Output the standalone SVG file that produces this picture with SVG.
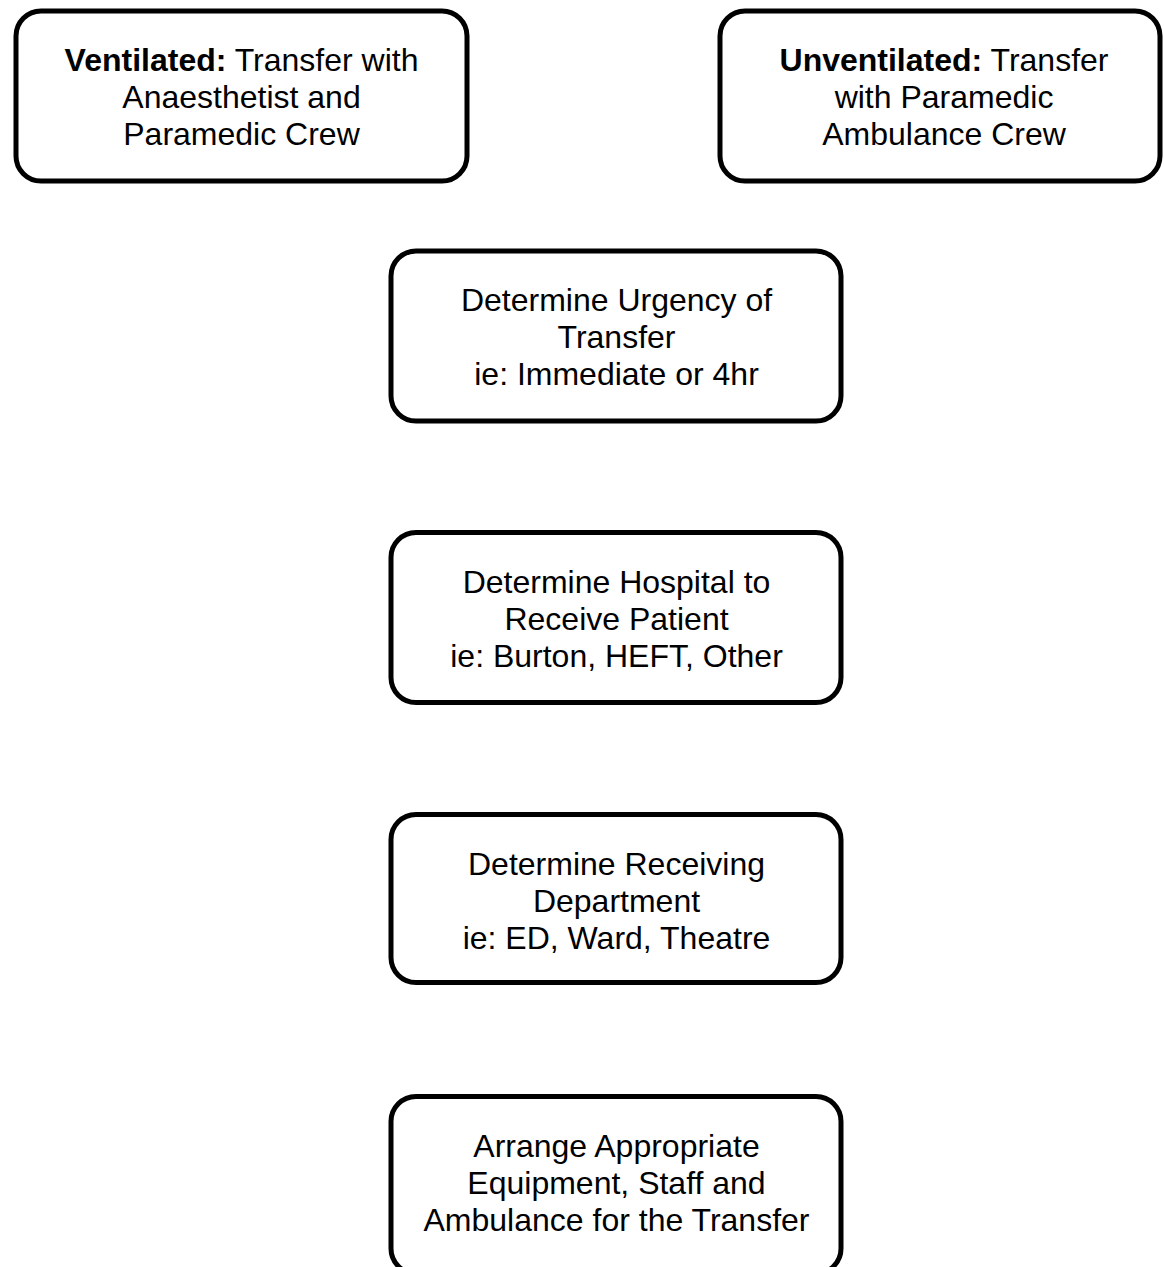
<svg xmlns="http://www.w3.org/2000/svg" width="1164" height="1267" viewBox="0 0 1164 1267">
<style>
.box{fill:#ffffff;stroke:#000000;stroke-width:5}
.t{font-family:"Liberation Sans",Arial,sans-serif;font-size:32px;fill:#000000;text-anchor:middle}
.b{font-weight:bold}
</style>
<rect width="1164" height="1267" fill="#ffffff"/>
<g id="connectors"></g>
<g id="node-ventilated">
<rect class="box" x="16" y="11" width="451" height="170" rx="25" ry="25"/>
<text class="t" x="241.5" y="71"><tspan class="b">Ventilated:</tspan> Transfer with</text>
<text class="t" x="241.5" y="108">Anaesthetist and</text>
<text class="t" x="241.5" y="145">Paramedic Crew</text>
</g>
<g id="node-unventilated">
<rect class="box" x="720" y="11" width="440" height="170" rx="25" ry="25"/>
<text class="t" x="944" y="71"><tspan class="b">Unventilated:</tspan> Transfer</text>
<text class="t" x="944" y="108">with Paramedic</text>
<text class="t" x="944" y="145">Ambulance Crew</text>
</g>
<g id="node-urgency">
<rect class="box" x="391" y="251" width="450" height="170" rx="25" ry="25"/>
<text class="t" x="616.5" y="311">Determine Urgency of</text>
<text class="t" x="616.5" y="348">Transfer</text>
<text class="t" x="616.5" y="385">ie: Immediate or 4hr</text>
</g>
<g id="node-hospital">
<rect class="box" x="391" y="532.5" width="450" height="170" rx="25" ry="25"/>
<text class="t" x="616.5" y="592.5">Determine Hospital to</text>
<text class="t" x="616.5" y="629.5">Receive Patient</text>
<text class="t" x="616.5" y="666.5">ie: Burton, HEFT, Other</text>
</g>
<g id="node-department">
<rect class="box" x="391" y="814.5" width="450" height="168" rx="25" ry="25"/>
<text class="t" x="616.5" y="874.5">Determine Receiving</text>
<text class="t" x="616.5" y="911.5">Department</text>
<text class="t" x="616.5" y="948.5">ie: ED, Ward, Theatre</text>
</g>
<g id="node-arrange">
<rect class="box" x="391" y="1096.5" width="450" height="177" rx="25" ry="25"/>
<text class="t" x="616.5" y="1156.5">Arrange Appropriate</text>
<text class="t" x="616.5" y="1193.5">Equipment, Staff and</text>
<text class="t" x="616.5" y="1230.5">Ambulance for the Transfer</text>
</g>
</svg>
